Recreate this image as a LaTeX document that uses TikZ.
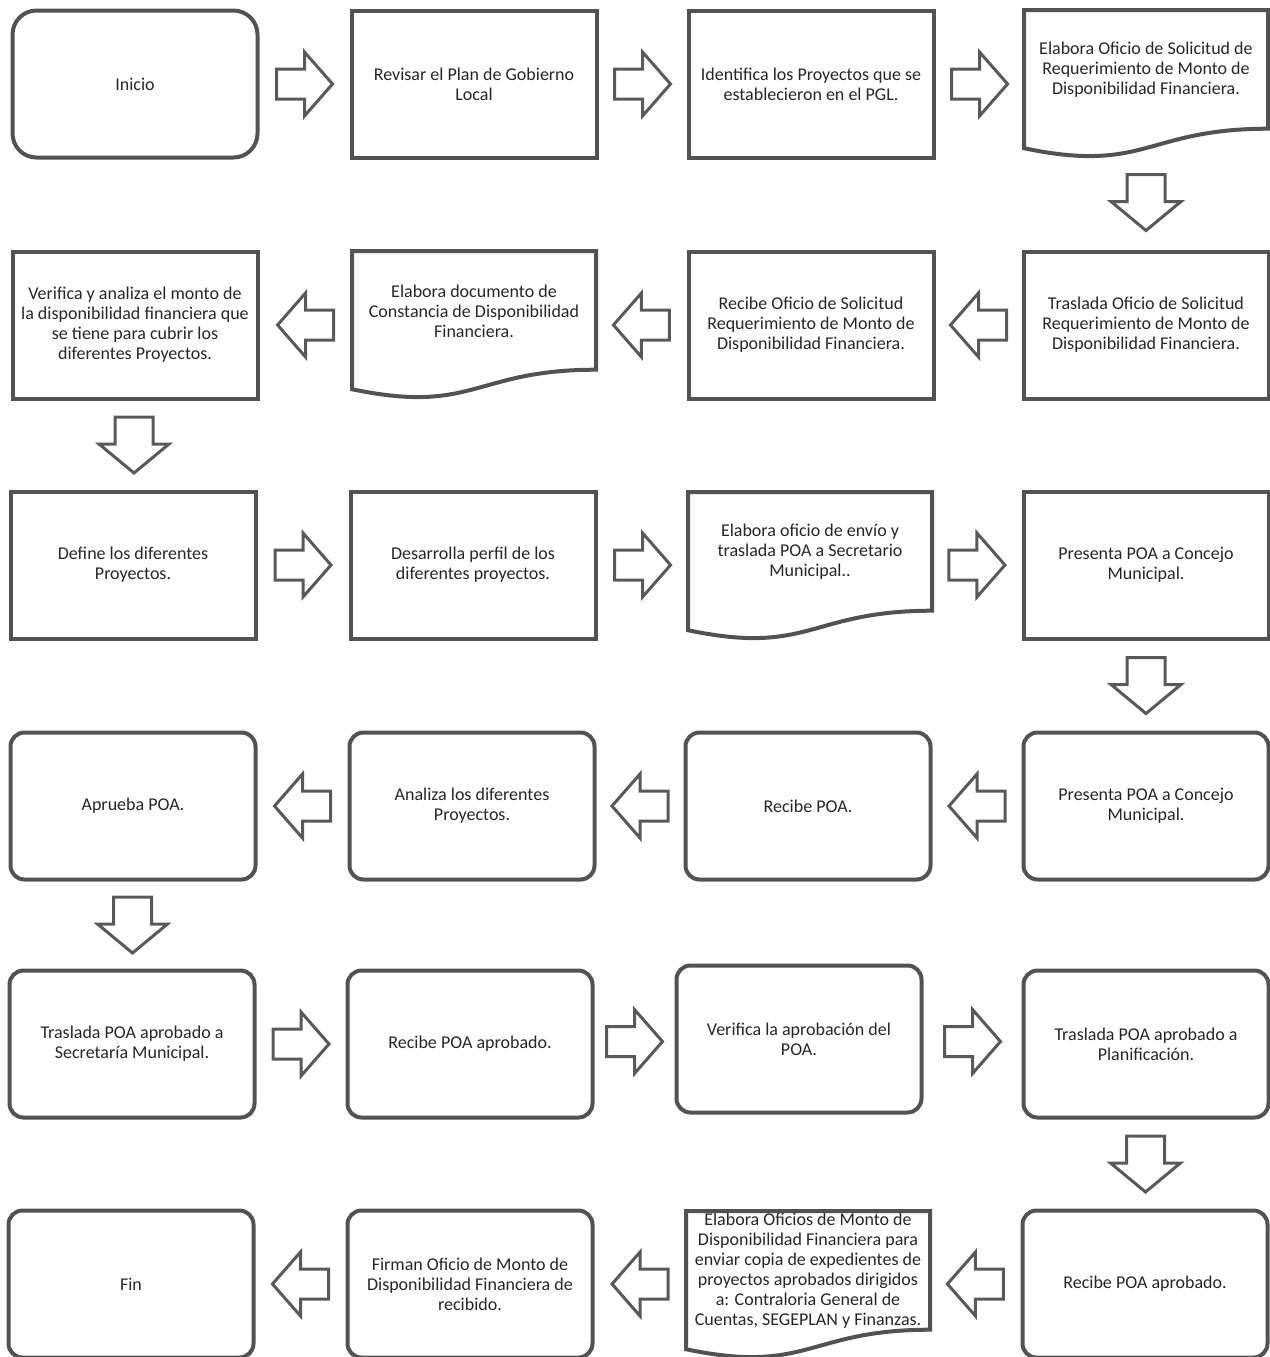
\documentclass[tikz,border=0pt]{standalone}
\usepackage{fontspec}
\setmainfont{Carlito}
\usetikzlibrary{calc}

\begin{document}
\begin{tikzpicture}[x=0.5pt,y=-0.5pt,
  boxline/.style={draw=black!68,line width=2pt},
  proc/.style={boxline,text=black!85,align=center,minimum width=122.5pt,minimum height=73.5pt,inner sep=1pt,font=\fontsize{9}{10}\selectfont},
  term/.style={proc,rounded corners=12pt},
  rproc/.style={proc,rounded corners=7pt},
  doc/.style={text=black!85,align=center,minimum width=122pt,minimum height=60pt,inner sep=1pt,font=\fontsize{9}{10}\selectfont},
  arrline/.style={draw=black!65,line width=1.5pt,line join=miter},
  harr/.pic={\draw[arrline] (-28,-15) -- (0,-15) -- (0,-32) -- (28,0) -- (0,32) -- (0,15) -- (-28,15) -- cycle;},
  darr/.pic={\draw[arrline] (-19,-28) -- (19,-28) -- (19,-1) -- (35,-1) -- (0,28) -- (-35,-1) -- (-19,-1) -- cycle;}
]
\useasboundingbox (0,0) rectangle (1270,1357);

% row 1
\node[term] (inicio) at (135,84) {Inicio};
\node[proc] (revisar) at (474,84) {Revisar el Plan de Gobierno\\Local};
\node[proc] (identifica) at (811,84) {Identifica los Proyectos que se\\establecieron en el PGL.};
\node[doc] (solicitud) at (1146,70) {Elabora Oficio de Solicitud de\\Requerimiento de Monto de\\Disponibilidad Financiera.};

% row 2
\node[proc] (traslada) at (1146,325) {Traslada Oficio de Solicitud\\Requerimiento de Monto de\\Disponibilidad Financiera.};
\node[proc] (recibe) at (811,325) {Recibe Oficio de Solicitud\\Requerimiento de Monto de\\Disponibilidad Financiera.};
\node[doc] (constancia) at (474,311) {Elabora documento de\\Constancia de Disponibilidad\\Financiera.};
\node[proc] (verifica) at (135,325) {Verifica y analiza el monto de\\la disponibilidad financiera que\\se tiene para cubrir los\\diferentes Proyectos.};

% row 3
\node[proc] (define) at (133,565) {Define los diferentes\\Proyectos.};
\node[proc] (perfil) at (473,565) {Desarrolla perfil de los\\diferentes proyectos.};
\node[doc] (envio) at (810,552) {Elabora oficio de envío y\\traslada POA a Secretario\\Municipal..};
\node[proc] (presenta) at (1146,565) {Presenta POA a Concejo\\Municipal.};

% row 4
\node[rproc] (concejo) at (1146,806) {Presenta POA a Concejo\\Municipal.};
\node[rproc] (recibepoa) at (808,806) {Recibe POA.};
\node[rproc] (analiza) at (472,806) {Analiza los diferentes\\Proyectos.};
\node[rproc] (aprueba) at (133,806) {Aprueba POA.};

% row 5
\node[rproc] (secretaria) at (132,1044) {Traslada POA aprobado a\\Secretaría Municipal.};
\node[rproc] (aprobado) at (470,1044) {Recibe POA aprobado.};
\node[rproc] (aprobacion) at (799,1039) {Verifica la aprobación del\\POA.};
\node[rproc] (planif) at (1146,1044) {Traslada POA aprobado a\\Planificación.};

% row 6
\node[rproc] (recibeplan) at (1145,1284) {Recibe POA aprobado.};
\node[doc] (oficios) at (808,1271) {Elabora Oficios de Monto de\\Disponibilidad Financiera para\\enviar copia de expedientes de\\proyectos aprobados dirigidos\\a: Contraloria General de\\Cuentas, SEGEPLAN y Finanzas.};
\node[rproc] (firman) at (470,1284) {Firman Oficio de Monto de\\Disponibilidad Financiera de\\recibido.};
\node[term,rounded corners=7pt] (fin) at (131,1284) {Fin};

% document outlines
\foreach \d in {solicitud,constancia,envio,oficios}
  \draw[boxline] ($(\d)+(-122,-60)$) -- ($(\d)+(122,-60)$) -- ($(\d)+(122,58.7)$)
    .. controls ($(\d)+(0,58.7)$) and ($(\d)+(0,103.8)$) .. ($(\d)+(-122,78.2)$) -- cycle;

% block arrows
\pic at ($(inicio.east)!.5!(revisar.west)$) {harr};
\pic at ($(revisar.east)!.5!(identifica.west)$) {harr};
\pic at ($(identifica.east)!.5!(solicitud.west |- identifica.east)$) {harr};
\pic at ($(traslada.north)+(0,-47)$) {darr};

\pic[xscale=-1] at ($(traslada.west)!.5!(recibe.east)$) {harr};
\pic[xscale=-1] at ($(recibe.west)!.5!(constancia.east |- recibe.west)$) {harr};
\pic[xscale=-1] at ($(constancia.west |- verifica.east)!.5!(verifica.east)$) {harr};
\pic at ($(verifica.south)!.5!(define.north)$) {darr};

\pic at ($(define.east)!.5!(perfil.west)$) {harr};
\pic at ($(perfil.east)!.5!(envio.west |- perfil.east)$) {harr};
\pic at ($(envio.east |- presenta.west)!.5!(presenta.west)$) {harr};
\pic at ($(presenta.south)!.5!(concejo.north)$) {darr};

\pic[xscale=-1] at ($(concejo.west)!.5!(recibepoa.east)$) {harr};
\pic[xscale=-1] at ($(recibepoa.west)!.5!(analiza.east)$) {harr};
\pic[xscale=-1] at ($(analiza.west)!.5!(aprueba.east)$) {harr};
\pic at ($(aprueba.south)!.5!(secretaria.north)$) {darr};

\pic at ($(secretaria.east)!.5!(aprobado.west)$) {harr};
\pic at ($(aprobado.east)!.5!(aprobacion.west)$) {harr};
\pic at ($(aprobacion.east)!.5!(planif.west)$) {harr};
\pic at ($(planif.south)!.5!(recibeplan.north)$) {darr};

\pic[xscale=-1] at ($(recibeplan.west)!.5!(oficios.east |- recibeplan.west)$) {harr};
\pic[xscale=-1] at ($(oficios.west |- firman.east)!.5!(firman.east)$) {harr};
\pic[xscale=-1] at ($(firman.west)!.5!(fin.east)$) {harr};
\end{tikzpicture}
\end{document}
